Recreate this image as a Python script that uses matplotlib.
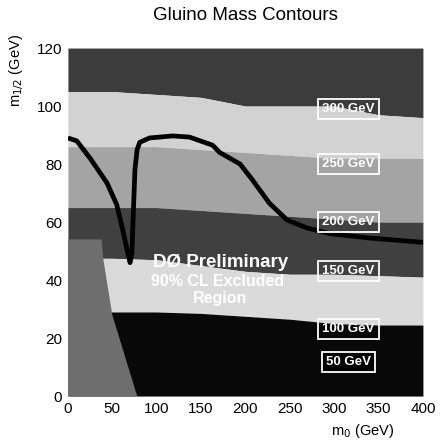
import numpy as np
import matplotlib
matplotlib.use('Agg')
import matplotlib.pyplot as plt
from matplotlib.patches import Polygon

plt.rcParams['font.family'] = ['Liberation Sans', 'DejaVu Sans']

# m0 sample points (GeV) where band edges were read
m0_pts = [0, 50, 100, 150, 200, 250, 300, 350, 400]

# lower edges of each gluino-mass band (m_1/2 in GeV), top to bottom
edge_300 = [105, 105, 104, 103, 100, 100, 100, 97, 96]
edge_250 = [86, 86, 86, 85, 84, 83, 82, 82, 82]
edge_200 = [65, 65, 65, 64, 63, 62, 61, 60, 60]
edge_150 = [47.5, 47.5, 47, 45, 43, 42, 42, 41.5, 41]
edge_100 = [29, 29, 29, 28.5, 27.5, 26.5, 25, 24.5, 24.5]

band_colors = ['#3c3c3c', '#d2d2d2', '#a4a4a4', '#404040', '#dadada', '#080808']

# theoretically excluded corner at low m0
excl_m0 = [0, 78, 50, 40, 38, 0]
excl_m12 = [0, 0, 28, 47, 54, 54]

# 90% CL exclusion contour
lim_m0 = [0, 10, 25, 44, 55, 62, 67, 70, 72, 73, 75.5, 78, 81, 92, 118, 137,
          163, 171, 194, 208, 227, 247, 269, 295, 340, 400]
lim_m12 = [89, 88, 82, 73.5, 66, 57, 50, 46, 49, 57, 78, 85, 87.5, 89, 89.7, 89.3,
           86.5, 84, 80, 74.5, 66.5, 60.7, 58, 56, 54.5, 53]

# contour labels
lab_text = ['300 GeV', '250 GeV', '200 GeV', '150 GeV', '100 GeV', '50 GeV']
lab_m12 = [99, 80, 60, 43, 23, 11.7]
lab_m0 = 316

fig = plt.figure(figsize=(4.41, 4.45), dpi=100)
ax = fig.add_axes([0.154, 0.110, 0.805, 0.782])

edges = [np.full(len(m0_pts), 120)] + [np.array(e) for e in
         [edge_300, edge_250, edge_200, edge_150, edge_100]] + [np.zeros(len(m0_pts))]
for i, c in enumerate(band_colors):
    ax.fill_between(m0_pts, edges[i + 1], edges[i], color=c, lw=0)

ax.add_patch(Polygon(np.column_stack([excl_m0, excl_m12]), closed=True,
                     facecolor='#6e6e6e', lw=0))

ax.plot(lim_m0, lim_m12, color='black', lw=3.4, solid_capstyle='butt')

for t, y in zip(lab_text, lab_m12):
    fc = 'black' if t == '50 GeV' else 'none'
    ax.text(lab_m0, y, t, color='white', fontsize=9.5, fontweight='bold',
            ha='center', va='center',
            bbox=dict(boxstyle='square,pad=0.3', fc=fc, ec='white', lw=1.3))

ax.text(172, 46, 'DØ Preliminary', color='white', fontsize=13.5,
        fontweight='bold', ha='center', va='center')
ax.text(169, 39.5, '90% CL Excluded', color='white', fontsize=11.5,
        fontweight='bold', ha='center', va='center')
ax.text(171, 33.5, 'Region', color='white', fontsize=11.5,
        fontweight='bold', ha='center', va='center')

ax.set_xlim(0, 400)
ax.set_ylim(0, 120)
ax.set_xticks(range(0, 401, 50))
ax.set_yticks(range(0, 121, 20))
ax.tick_params(length=0, labelsize=11, pad=4)
for s in ax.spines.values():
    s.set_visible(False)

ax.set_title('Gluino Mass Contours', fontsize=13.5, pad=20)
ax.text(0.92, -0.075, r'm$_0$ (GeV)', transform=ax.transAxes, ha='right',
        va='top', fontsize=10.5)
ax.text(-0.145, 0.935, r'm$_{1/2}$ (GeV)', transform=ax.transAxes, ha='center',
        va='center', rotation=90, fontsize=10.5)

fig.savefig('out.png', dpi=100)
